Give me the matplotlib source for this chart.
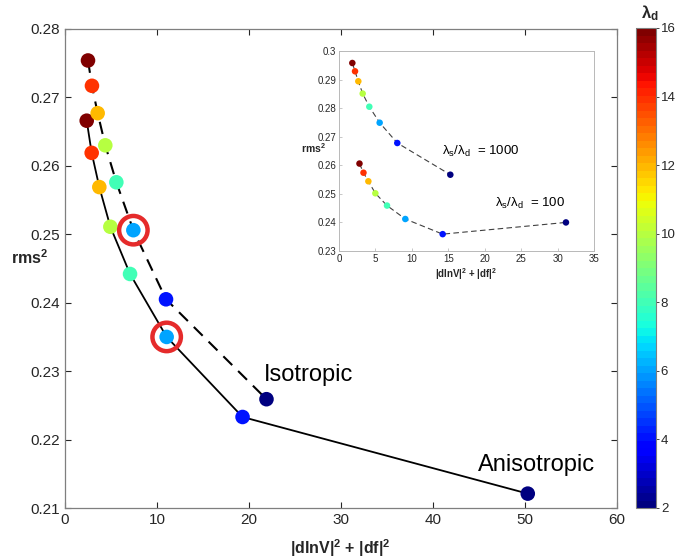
import numpy as np
import matplotlib
matplotlib.use("Agg")
import matplotlib.pyplot as plt
from matplotlib.colors import Normalize

plt.rcParams['font.family'] = ['Liberation Sans', 'DejaVu Sans']
plt.rcParams['mathtext.fontset'] = 'custom'
plt.rcParams['mathtext.rm'] = 'Liberation Sans'
plt.rcParams['mathtext.bf'] = 'Liberation Sans:bold'
plt.rcParams['mathtext.it'] = 'Liberation Sans:italic'

# ---- data ----
lambda_d = [16, 14, 12, 10, 8, 6, 4, 2]

aniso_x = [2.36, 2.9, 3.73, 4.93, 7.07, 11.05, 19.3, 50.3]
aniso_y = [0.2666, 0.2619, 0.2569, 0.2511, 0.2442, 0.2350, 0.2233, 0.2121]

iso_x = [2.5, 2.93, 3.55, 4.38, 5.58, 7.43, 10.98, 21.9]
iso_y = [0.2754, 0.2717, 0.2677, 0.2630, 0.2576, 0.2506, 0.2405, 0.2259]

circled_x = [7.43, 11.05]
circled_y = [0.2506, 0.2350]

in1000_x = [1.83, 2.2, 2.65, 3.25, 4.16, 5.58, 8.0, 15.28]
in1000_y = [0.2958, 0.2929, 0.2894, 0.2851, 0.2805, 0.2749, 0.2678, 0.2567]
in100_x = [2.81, 3.36, 4.03, 4.99, 6.59, 9.1, 14.23, 31.15]
in100_y = [0.2606, 0.2574, 0.2544, 0.2502, 0.2459, 0.2412, 0.2359, 0.2400]

main_xticks = [0, 10, 20, 30, 40, 50, 60]
main_yticks = [0.21, 0.22, 0.23, 0.24, 0.25, 0.26, 0.27, 0.28]
inset_xticks = [0, 5, 10, 15, 20, 25, 30, 35]
inset_yticks = [0.23, 0.24, 0.25, 0.26, 0.27, 0.28, 0.29, 0.3]
cbar_ticks = [2, 4, 6, 8, 10, 12, 14, 16]

W, H = 677, 559
fig = plt.figure(figsize=(W / 100, H / 100), dpi=100)

cmap = plt.get_cmap('jet', 64)
norm = Normalize(vmin=2, vmax=16)

axcol = '#262626'
tick_kw = dict(direction='in', colors=axcol, top=True, right=True)

# ---- main axes ----
ax = fig.add_axes([65 / W, 1 - 508 / H, 552 / W, 479 / H])
ax.plot(aniso_x, aniso_y, '-', color='black', lw=1.3, zorder=1)
ax.plot(iso_x, iso_y, '--', color='black', lw=1.5, dashes=(6, 4), zorder=1)
ax.scatter(aniso_x, aniso_y, c=lambda_d, cmap=cmap, norm=norm, s=110, zorder=3, edgecolors='none')
ax.scatter(iso_x, iso_y, c=lambda_d, cmap=cmap, norm=norm, s=110, zorder=3, edgecolors='none')
ax.scatter(circled_x, circled_y, s=420, facecolors='none', edgecolors='#e52b2b', linewidths=3.2, zorder=4)

ax.set_xlim(0, 60)
ax.set_ylim(0.21, 0.28)
ax.set_xticks(main_xticks)
ax.set_yticks(main_yticks)
ax.set_xticklabels([str(t) for t in main_xticks])
ax.set_yticklabels(['%g' % t for t in main_yticks])
ax.tick_params(labelsize=11, length=4, width=0.8, **tick_kw)
ax.tick_params(axis='both', labelcolor=axcol)
for sp in ax.spines.values():
    sp.set_color('#7f7f7f')
    sp.set_linewidth(0.9)

ax.text(21.6, 0.2295, 'Isotropic', fontsize=17, color='black', ha='left', va='center')
ax.text(44.9, 0.2163, 'Anisotropic', fontsize=17, color='black', ha='left', va='center')

fig.text(340 / W, 1 - 548 / H, r'|dlnV|$^\mathbf{2}$ + |df|$^\mathbf{2}$', fontsize=11.5,
         fontweight='bold', ha='center', va='center', color=axcol)
fig.text(30 / W, 1 - 258 / H, r'rms$^\mathbf{2}$', fontsize=11.5, fontweight='bold',
         ha='center', va='center', color=axcol)

# ---- colorbar ----
cax = fig.add_axes([636 / W, 1 - 508 / H, 20 / W, 480 / H])
sm = matplotlib.cm.ScalarMappable(norm=norm, cmap=cmap)
cb = fig.colorbar(sm, cax=cax, ticks=cbar_ticks)
cb.ax.tick_params(labelsize=9.5, direction='out', length=2.5, width=0.6, colors=axcol, pad=1)
cb.outline.set_edgecolor('#7f7f7f')
cb.outline.set_linewidth(0.8)
fig.text(650 / W, 1 - 13 / H, r'$\mathbf{\lambda_d}$', fontsize=12, ha='center', va='center', color=axcol)

# ---- inset ----
ins = fig.add_axes([339 / W, 1 - 251 / H, 255 / W, 200 / H])
ins.plot(in1000_x, in1000_y, '--', color='#404040', lw=0.8, dashes=(5, 3), zorder=1)
ins.plot(in100_x, in100_y, '--', color='#404040', lw=0.8, dashes=(5, 3), zorder=1)
ins.scatter(in1000_x, in1000_y, c=lambda_d, cmap=cmap, norm=norm, s=22, zorder=3, edgecolors='none')
ins.scatter(in100_x, in100_y, c=lambda_d, cmap=cmap, norm=norm, s=22, zorder=3, edgecolors='none')
ins.set_xlim(0, 35)
ins.set_ylim(0.23, 0.3)
ins.set_xticks(inset_xticks)
ins.set_yticks(inset_yticks)
ins.set_xticklabels([str(t) for t in inset_xticks])
ins.set_yticklabels(['%g' % t for t in inset_yticks])
ins.tick_params(labelsize=7, length=2.5, width=0.5, direction='in', colors='#b0b0b0',
                labelcolor=axcol, top=False, right=False, pad=2)
for sp in ins.spines.values():
    sp.set_color('#b8b8b8')
    sp.set_linewidth(0.7)
ins.text(14.1, 0.2647, r'λ$_\mathrm{s}$/λ$_\mathrm{d}$  = 1000', fontsize=9.5, ha='left', va='center', color='black')
ins.text(21.4, 0.2466, r'λ$_\mathrm{s}$/λ$_\mathrm{d}$  = 100', fontsize=9.5, ha='left', va='center', color='black')
ins.set_xlabel(r'|dlnV|$^\mathbf{2}$ + |df|$^\mathbf{2}$', fontsize=7, fontweight='bold', color=axcol, labelpad=2)
ins.set_ylabel(r'rms$^\mathbf{2}$', fontsize=7.5, fontweight='bold', color=axcol, rotation=0, labelpad=0)
ins.yaxis.set_label_coords(-0.1, 0.48)

fig.savefig('out.png', dpi=100)
